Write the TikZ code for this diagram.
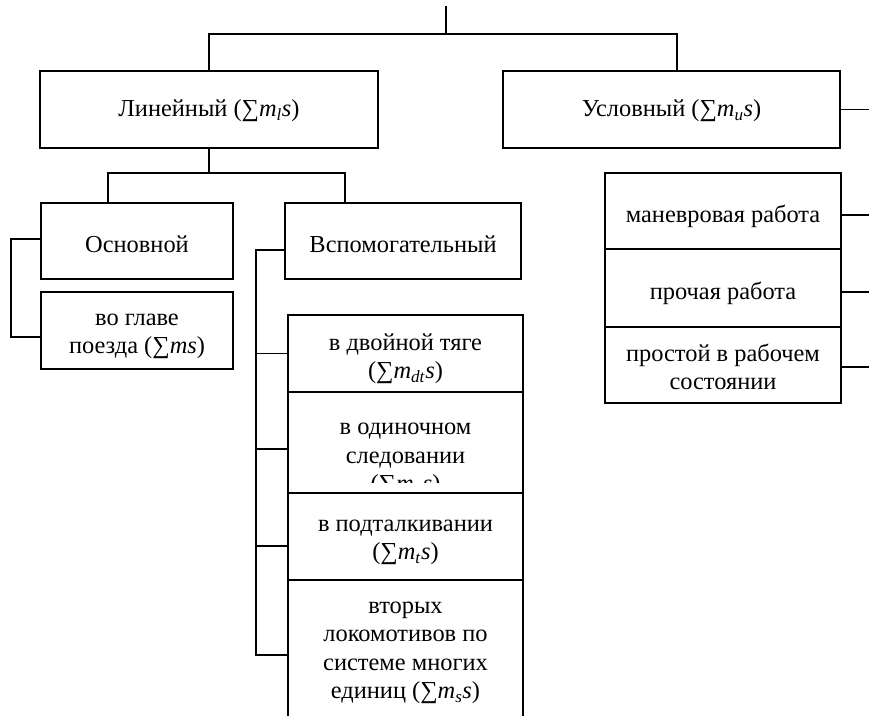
\documentclass[tikz,border=0pt]{standalone}
\usepackage{fontspec}
\setmainfont{Liberation Serif}
\newcommand\msm[1]{(∑\textit{m}\textsubscript{\textit{#1}}\textit{s})}
\tikzset{
  bx/.style={draw, line width=1.2pt, fill=white, inner sep=0pt},
  tx/.style={align=center, inner sep=0pt, font=\fontsize{24.4}{28.5}\selectfont},
  ln/.style={line width=1.2pt}
}
\begin{document}
\begin{tikzpicture}[x=1pt,y=-1pt]
\clip (0,0) rectangle (869,715);
% top level
\node[bx, minimum width=338pt, minimum height=77pt] (lin) at (209,109.5) {};
\node[tx] (lintxt) at ([yshift=-1pt]lin.center) {Линейный \msm{l}};
\node[bx, minimum width=337pt, minimum height=77pt] (usl) at (671.5,109.5) {};
\node[tx] (usltxt) at ([yshift=-1pt]usl.center) {Условный \msm{u}};
% second level (left)
\node[bx, minimum width=192pt, minimum height=76pt] (osn) at (137,241) {};
\node[tx] (osntxt) at ([yshift=-3pt]osn.center) {Основной};
\node[bx, minimum width=192pt, minimum height=77pt] (glav) at (137,330.5) {};
\node[tx] (glavtxt) at ([yshift=-6pt]glav.center) {во главе\\поезда (∑\textit{ms})};
\node[bx, minimum width=236pt, minimum height=76pt] (vsp) at (403,241) {};
\node[tx] (vsptxt) at ([yshift=-3pt]vsp.center) {Вспомогательный};
% auxiliary column
\node[bx, minimum width=235pt, minimum height=77pt] (dvoin) at (405.5,353.5) {};
\node[tx] (dvointxt) at ([yshift=-5pt]dvoin.center) {в двойной тяге\\\msm{dt}};
\node[bx, minimum width=235pt, minimum height=101pt] (odin) at (405.5,442.5) {};
\begin{scope}
  \clip (288,392) rectangle (523,482);
  \node[tx] (odintxt) at (405.5,460) {в одиночном\\следовании\\\msm{o}};
\end{scope}
\node[bx, minimum width=235pt, minimum height=87pt] (podt) at (405.5,536.5) {};
\node[tx] (podttxt) at ([yshift=-6pt]podt.center) {в подталкивании\\\msm{t}};
\node[bx, minimum width=235pt, minimum height=150pt] (vtor) at (405.5,655) {};
\node[tx] (vtortxt) at (405.5,653) {вторых\\локомотивов по\\системе многих\\единиц \msm{s}};
% right column
\node[bx, minimum width=236pt, minimum height=76pt] (man) at (723,211) {};
\node[tx] (mantxt) at ([yshift=-5pt]man.center) {маневровая работа};
\node[bx, minimum width=236pt, minimum height=78pt] (proch) at (723,288) {};
\node[tx] (prochtxt) at ([yshift=-5pt]proch.center) {прочая работа};
\node[bx, minimum width=236pt, minimum height=76pt] (prost) at (723,365) {};
\node[tx] (prosttxt) at ([yshift=-2pt]prost.center) {простой в рабочем\\состоянии};
% connectors
\coordinate (root) at (446,6);
\coordinate (j1) at (446,34);
\draw[ln] (root) -- (j1);
\draw[ln] (lin.north) |- (j1);
\draw[ln] ([xshift=5.5pt]usl.north) |- (j1);
\coordinate (r0) at (869,109.5);
\draw[ln] (usl.east) -- (r0);
\coordinate (j2) at (209,173);
\draw[ln] (lin.south) -- (j2);
\draw[ln] ([xshift=-29pt]osn.north) |- (j2);
\draw[ln] ([xshift=-58pt]vsp.north) |- (j2);
% left bracket
\coordinate (bl) at (11,0);
\coordinate (o1) at ([yshift=2pt]osn.west);
\coordinate (g1) at ([yshift=-6.5pt]glav.west);
\draw[ln] (o1) -| (bl |- g1) -- (g1);
% auxiliary bracket
\coordinate (bv) at (256,0);
\coordinate (v1) at ([yshift=-9pt]vsp.west);
\draw[ln] (v1) -| (bv |- vtor.west) -- (vtor.west);
\draw[ln] (dvoin.west -| bv) -- (dvoin.west);
\coordinate (d2) at ([yshift=-6.5pt]odin.west);
\draw[ln] (d2 -| bv) -- (d2);
\coordinate (d3) at ([yshift=-9.5pt]podt.west);
\draw[ln] (d3 -| bv) -- (d3);
% right connectors
\coordinate (r1) at (869,215);
\coordinate (r2) at (869,292);
\coordinate (r3) at (869,367);
\draw[ln] (man.east |- r1) -- (r1);
\draw[ln] (proch.east |- r2) -- (r2);
\draw[ln] (prost.east |- r3) -- (r3);
\end{tikzpicture}
\end{document}
